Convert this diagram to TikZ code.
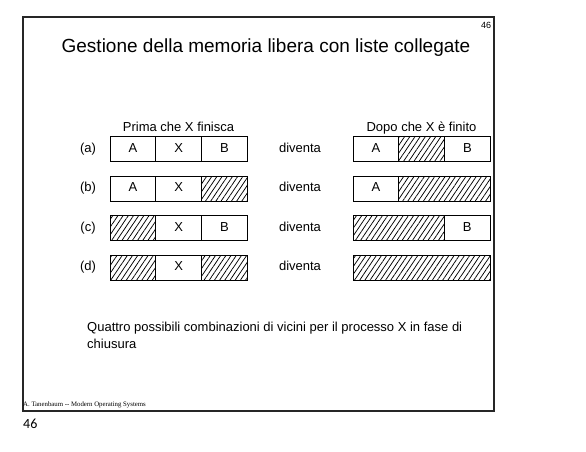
\documentclass[tikz,border=0pt]{standalone}
\usepackage{fontspec}
\setmainfont{Liberation Sans}
\newfontfamily\footfont{Liberation Serif}
\newfontfamily\pagefont{Carlito}
\usepackage{tikz}
\usetikzlibrary{positioning,patterns.meta}

\begin{document}
\begin{tikzpicture}[
  x=1pt, y=-1pt,
  every node/.style={font=\fontsize{13}{15}\selectfont, inner sep=0pt,
                     text height=9.4pt, text depth=2.7pt},
  cell/.style={draw, line width=0.8pt, outer sep=0pt,
               minimum width=45.67pt, minimum height=25pt},
  free/.style={cell, pattern={Lines[angle=56, distance=4.3pt, line width=0.75pt]}},
  free2/.style={free, minimum width=91.33pt},
  free3/.style={free, minimum width=137pt},
  rowlbl/.style={anchor=center},
]
\useasboundingbox (0,0) rectangle (586,452);

%% Slide frame
\draw[line width=1.4pt, black!85] (23,17) rectangle (494,411);
\node[font=\fontsize{9}{10}\selectfont, text height=6.5pt, text depth=0pt]
  (pgtop) at (486,25) {46};
\node[font=\fontsize{19}{22}\selectfont, text height=13.7pt, text depth=4pt]
  (title) at (266,48) {Gestione della memoria libera con liste collegate};

%% Column headers
\node (before) at (178.5,128) {Prima che X finisca};
\node (after) at (421.5,128) {Dopo che X è finito};

%% Row labels
\foreach \r/\y in {a/149, b/188.5, c/228, d/267.5} {
  \node[rowlbl] (lbl\r) at (88,\y) {(\r)};
  \node[rowlbl] (div\r) at (300,\y) {diventa};
}

%% (a)
\node[cell] (a1) at (133,149) {A};
\node[cell, right=0pt of a1] (a2) {X};
\node[cell, right=0pt of a2] (a3) {B};
\node[cell] (ra1) at (376,149) {A};
\node[free, right=0pt of ra1] (ra2) {};
\node[cell, right=0pt of ra2] (ra3) {B};

%% (b)
\node[cell] (b1) at (133,188.5) {A};
\node[cell, right=0pt of b1] (b2) {X};
\node[free, right=0pt of b2] (b3) {};
\node[cell] (rb1) at (376,188.5) {A};
\node[free2, right=0pt of rb1] (rb2) {};

%% (c)
\node[free] (c1) at (133,228) {};
\node[cell, right=0pt of c1] (c2) {X};
\node[cell, right=0pt of c2] (c3) {B};
\node[free2] (rc1) at (398.8,228) {};
\node[cell, right=0pt of rc1] (rc2) {B};

%% (d)
\node[free] (d1) at (133,267.5) {};
\node[cell, right=0pt of d1] (d2) {X};
\node[free, right=0pt of d2] (d3) {};
\node[free3] (rd1) at (421.5,267.5) {};

%% Caption
\node[anchor=north west, align=left, font=\fontsize{13}{17}\selectfont,
      text height=, text depth=]
  (caption) at (87,322)
  {Quattro possibili combinazioni di vicini per il processo X in fase di\\chiusura};

%% Footer
\node[anchor=west, font=\footfont\fontsize{6.8}{8}\selectfont,
      text height=5pt, text depth=1.5pt] (src) at (23,405)
  {A. Tanenbaum -- Modern Operating Systems};
\node[anchor=west, font=\pagefont\fontsize{14}{16}\selectfont] (pgnum) at (23,425) {46};

\end{tikzpicture}
\end{document}
